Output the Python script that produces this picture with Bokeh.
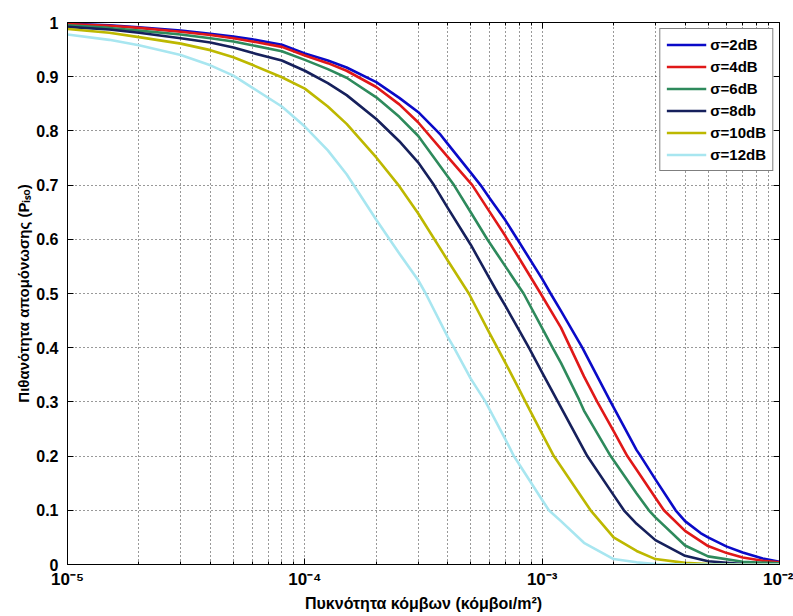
from bokeh.plotting import figure
from bokeh.models import (FixedTicker, CustomJSTickFormatter, LogAxis, LinearAxis, Range1d, Title)
from bokeh.embed import file_html
from bokeh.resources import INLINE

# ---- data ----
x_sigma2 = [1e-5, 1.5e-5, 2e-5, 3e-5, 4e-5, 5e-5, 6e-5, 8e-5, 1e-4, 1.25e-4, 1.5e-4, 2e-4, 2.5e-4,
            3e-4, 3.73e-4, 4e-4, 5e-4, 5.5e-4, 6e-4, 7e-4, 7.86e-4, 1e-3, 1.085e-3, 1.2e-3,
            1.476e-3, 1.943e-3, 2.5e-3, 2.6e-3, 3e-3, 3.65e-3, 4e-3, 4.65e-3, 5e-3, 6e-3, 7e-3,
            8.5e-3, 1e-2]
p_sigma2 = [0.998, 0.995, 0.991, 0.985, 0.979, 0.974, 0.969, 0.959, 0.943, 0.930, 0.917, 0.890, 0.861,
            0.835, 0.793, 0.776, 0.723, 0.700, 0.676, 0.635, 0.600, 0.527, 0.500, 0.468,
            0.400, 0.300, 0.211, 0.200, 0.157, 0.100, 0.080, 0.058, 0.050, 0.033, 0.022,
            0.011, 0.005]

x_sigma4 = [1e-5, 1.5e-5, 2e-5, 3e-5, 4e-5, 5e-5, 6e-5, 8e-5, 1e-4, 1.25e-4, 1.5e-4, 2e-4, 2.5e-4,
            3e-4, 4e-4, 5.075e-4, 6e-4, 7e-4, 7.13e-4, 8e-4, 9.85e-4, 1.2e-3, 1.5e-3, 1.707e-3,
            2e-3, 2.284e-3, 2.5e-3, 3e-3, 3.258e-3, 4e-3, 5e-3, 6e-3, 7e-3, 8.5e-3, 1e-2]
p_sigma4 = [0.997, 0.994, 0.990, 0.983, 0.977, 0.971, 0.965, 0.955, 0.939, 0.925, 0.911, 0.881, 0.849,
            0.816, 0.752, 0.700, 0.651, 0.606, 0.600, 0.565, 0.500, 0.437, 0.347, 0.300,
            0.246, 0.200, 0.175, 0.123, 0.100, 0.062, 0.034, 0.021, 0.013, 0.007, 0.004]

x_sigma6 = [1e-5, 1.5e-5, 2e-5, 3e-5, 4e-5, 5e-5, 6e-5, 8e-5, 1e-4, 1.25e-4, 1.5e-4, 2e-4, 2.5e-4,
            3e-4, 4e-4, 4.25e-4, 5e-4, 5.87e-4, 7e-4, 8e-4, 8.35e-4, 1e-3, 1.106e-3, 1.2e-3,
            1.428e-3, 1.5e-3, 1.943e-3, 2.5e-3, 2.816e-3, 3e-3, 4e-3, 5e-3, 7e-3, 1e-2]
p_sigma6 = [0.995, 0.990, 0.985, 0.978, 0.971, 0.965, 0.958, 0.947, 0.931, 0.914, 0.898, 0.862, 0.826,
            0.791, 0.716, 0.700, 0.650, 0.600, 0.550, 0.512, 0.500, 0.436, 0.400, 0.372,
            0.305, 0.284, 0.200, 0.131, 0.100, 0.087, 0.035, 0.015, 0.005, 0.002]

x_sigma8 = [1e-5, 1.5e-5, 2e-5, 3e-5, 4e-5, 5e-5, 6e-5, 8e-5, 1e-4, 1.25e-4, 1.5e-4, 2e-4, 2.5e-4,
            3e-4, 3.5e-4, 4e-4, 4.835e-4, 5e-4, 6e-4, 6.52e-4, 7e-4, 8e-4, 8.79e-4, 1e-3, 1.2e-3,
            1.549e-3, 2e-3, 2.21e-3, 2.5e-3, 3e-3, 4e-3, 5e-3, 7e-3, 1e-2]
p_sigma8 = [0.992, 0.987, 0.981, 0.971, 0.963, 0.954, 0.944, 0.930, 0.911, 0.888, 0.866, 0.822, 0.781,
            0.742, 0.700, 0.658, 0.600, 0.590, 0.528, 0.500, 0.477, 0.432, 0.400, 0.354, 0.290,
            0.200, 0.128, 0.100, 0.075, 0.045, 0.016, 0.006, 0.001, 0.000]

x_sigma10 = [1e-5, 1.5e-5, 2e-5, 3e-5, 4e-5, 5e-5, 6e-5, 8e-5, 1e-4, 1.25e-4, 1.5e-4, 2e-4, 2.5e-4,
             3e-4, 4e-4, 4.91e-4, 6e-4, 6.47e-4, 7e-4, 8e-4, 8.51e-4, 1e-3, 1.12e-3, 1.2e-3,
             1.5e-3, 1.6e-3, 2e-3, 2.5e-3, 3e-3, 4e-3, 5e-3, 7e-3, 1e-2]
p_sigma10 = [0.988, 0.981, 0.973, 0.961, 0.949, 0.936, 0.922, 0.899, 0.878, 0.845, 0.813, 0.751, 0.698,
             0.648, 0.561, 0.500, 0.427, 0.400, 0.372, 0.323, 0.300, 0.241, 0.200, 0.181,
             0.118, 0.100, 0.050, 0.025, 0.010, 0.003, 0.001, 0.000, 0.000]

x_sigma12 = [1e-5, 1.5e-5, 2e-5, 3e-5, 4e-5, 5e-5, 6e-5, 8e-5, 1e-4, 1.25e-4, 1.5e-4, 2e-4, 2.5e-4,
             3e-4, 3.23e-4, 4e-4, 4.25e-4, 5e-4, 5.775e-4, 7e-4, 7.6e-4, 8e-4, 1e-3, 1.067e-3,
             1.2e-3, 1.5e-3, 2e-3, 2.5e-3, 3e-3, 4e-3, 1e-2]
p_sigma12 = [0.978, 0.968, 0.958, 0.940, 0.921, 0.902, 0.880, 0.845, 0.808, 0.764, 0.720, 0.636, 0.574,
             0.525, 0.500, 0.420, 0.400, 0.343, 0.300, 0.231, 0.200, 0.185, 0.119, 0.100,
             0.080, 0.040, 0.010, 0.004, 0.001, 0.000, 0.000]

series_labels = ["σ=2dB", "σ=4dB", "σ=6dB", "σ=8db", "σ=10dB", "σ=12dB"]
series_x = [x_sigma2, x_sigma4, x_sigma6, x_sigma8, x_sigma10, x_sigma12]
series_values = [p_sigma2, p_sigma4, p_sigma6, p_sigma8, p_sigma10, p_sigma12]
series_colors = ["#0a0ac8", "#e01818", "#2e8a5c", "#16205c", "#bdb800", "#a8e6f0"]

x_ticks = [1e-5, 1e-4, 1e-3, 1e-2]
x_tick_labels = ["10⁻⁵", "10⁻⁴", "10⁻³", "10⁻²"]
y_ticks = [0.0, 0.1, 0.2, 0.3, 0.4, 0.5, 0.6, 0.7, 0.8, 0.9, 1.0]
y_tick_labels = ["0", "0.1", "0.2", "0.3", "0.4", "0.5", "0.6", "0.7", "0.8", "0.9", "1"]

x_label = "Πυκνότητα κόμβων (κόμβοι/m²)"
y_label = "Πιθανότητα απομόνωσης (Pᵢₛₒ)"

FONT = "Liberation Sans"

p = figure(width=793, height=616, x_axis_type="log",
           x_range=Range1d(1e-5, 1e-2), y_range=Range1d(0, 1),
           output_backend="svg", toolbar_location=None,
           min_border_left=67, min_border_right=14, min_border_top=22, min_border_bottom=52)
p.background_fill_color = "white"
p.border_fill_color = "white"
p.outline_line_color = "black"
p.outline_line_width = 1

minor_x = [m * 10.0 ** e for e in (-5, -4, -3) for m in range(2, 10)]
xt = FixedTicker(ticks=x_ticks, minor_ticks=minor_x)
yt = FixedTicker(ticks=y_ticks)

LOOKUP_LOG = """
let best = 0, bd = Infinity;
for (let i = 0; i < tvals.length; i++) {
  const d = Math.abs(Math.log10(tick) - Math.log10(tvals[i]));
  if (d < bd) { bd = d; best = i; }
}
return tlabels[best];
"""
LOOKUP_LIN = """
let best = 0, bd = Infinity;
for (let i = 0; i < tvals.length; i++) {
  const d = Math.abs(tick - tvals[i]);
  if (d < bd) { bd = d; best = i; }
}
return tlabels[best];
"""
blank = CustomJSTickFormatter(code="return '';")
xfmt = CustomJSTickFormatter(args=dict(tvals=x_ticks, tlabels=x_tick_labels), code=LOOKUP_LOG)
yfmt = CustomJSTickFormatter(args=dict(tvals=y_ticks, tlabels=y_tick_labels), code=LOOKUP_LIN)

def style_ticks(ax):
    ax.axis_line_color = "black"
    ax.major_tick_in = 6
    ax.major_tick_out = 0
    ax.minor_tick_in = 3
    ax.minor_tick_out = 0
    ax.major_tick_line_color = "black"
    ax.minor_tick_line_color = "black"

xa = p.xaxis[0]
xa.ticker = xt
xa.formatter = xfmt
style_ticks(xa)
xa.major_label_text_font = FONT
xa.major_label_text_font_style = "bold"
xa.major_label_text_font_size = "17px"
xa.major_label_text_color = "black"
xa.major_label_standoff = 5
xa.axis_label = x_label
xa.axis_label_standoff = 3
xa.axis_label_text_font = FONT
xa.axis_label_text_font_style = "bold"
xa.axis_label_text_font_size = "16px"
xa.axis_label_text_color = "black"

ya = p.yaxis[0]
ya.ticker = yt
ya.formatter = yfmt
style_ticks(ya)
ya.minor_tick_line_color = None
ya.major_label_text_font = FONT
ya.major_label_text_font_style = "bold"
ya.major_label_text_font_size = "16px"
ya.major_label_text_color = "black"
ya.major_label_standoff = 9

p.add_layout(Title(text=y_label, align="center", offset=38, standoff=4,
                   text_font=FONT, text_font_style="bold", text_font_size="15px",
                   text_color="black"), "left")

top_ax = LogAxis(ticker=xt, formatter=blank, major_label_text_font_size="0px",
                 major_label_standoff=0)
style_ticks(top_ax)
right_ax = LinearAxis(ticker=yt, formatter=blank, major_label_text_font_size="0px",
                      major_label_standoff=0)
style_ticks(right_ax)
right_ax.minor_tick_line_color = None
p.add_layout(top_ax, "above")
p.add_layout(right_ax, "right")

p.xgrid.ticker = xt
p.ygrid.ticker = yt
for g in (p.xgrid[0], p.ygrid[0]):
    g.grid_line_color = "black"
    g.grid_line_dash = "1 3"
    g.grid_line_width = 1
    g.grid_line_alpha = 0.8
p.xgrid.minor_grid_line_color = "black"
p.xgrid.minor_grid_line_dash = "1 3"
p.xgrid.minor_grid_line_alpha = 0.8

for lab, xs, vals, col in zip(series_labels, series_x, series_values, series_colors):
    p.line(xs, vals, line_color=col, line_width=2.6, legend_label=lab, line_join="round")

lg = p.legend[0]
lg.location = "top_right"
lg.margin = 6
lg.padding = 6
lg.spacing = 3
lg.label_height = 19
lg.glyph_height = 19
lg.glyph_width = 40
lg.label_standoff = 4
lg.label_text_font = FONT
lg.label_text_font_style = "bold"
lg.label_text_font_size = "15px"
lg.label_text_color = "black"
lg.border_line_color = "black"
lg.border_line_width = 1
lg.background_fill_color = "white"
lg.background_fill_alpha = 1.0

open("out.html", "w").write(file_html(p, INLINE))
